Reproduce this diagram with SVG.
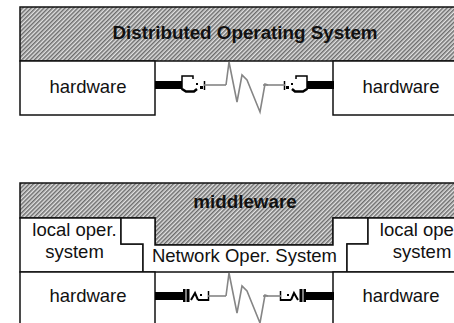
<svg xmlns="http://www.w3.org/2000/svg" width="454" height="323" viewBox="0 0 454 323">
<style>
.box{fill:#fff;stroke:#111;stroke-width:1.5}
.hatch{fill:url(#hatch);stroke:#111;stroke-width:1.5}
.t{font-family:"Liberation Sans",Arial,sans-serif;font-size:18.5px;fill:#111;text-anchor:middle}
.b{font-weight:bold;font-size:18.8px}
.wire{fill:none;stroke:#858585;stroke-width:1.6;stroke-linejoin:miter}
.ink{fill:none;stroke:#000}
</style>
<defs>
<pattern id="hatch" width="3" height="3" patternUnits="userSpaceOnUse" patternTransform="rotate(45)">
<rect width="3" height="3" fill="#e2e2e2"/>
<rect width="1.5" height="3" fill="#6c6c6c"/>
</pattern>
<g id="plugT">
<rect x="155" y="81" width="27" height="8" fill="#000"/>
<path class="ink" stroke-width="1.5" d="M182,90 V76 H193 V79"/>
<path class="ink" stroke-width="2.5" d="M182,89 L186,91.5 H194 L197,89"/>
<rect x="196" y="83" width="2" height="2"/>
<rect x="200" y="86" width="3" height="3"/>
<path class="ink" stroke-width="1.5" d="M204.5,81 V90"/>
<path class="wire" d="M204,85 H226"/>
</g>
<g id="plugB">
<rect x="155" y="292" width="28" height="8" fill="#000"/>
<rect x="183" y="289" width="2.5" height="13" fill="#000"/>
<rect x="186.5" y="289" width="3" height="13" fill="#000"/>
<path class="ink" stroke-width="2" d="M191,300 L195,293 L198,300 M198,300 H208"/>
<rect x="200" y="294" width="2" height="2"/>
<path class="ink" stroke-width="1.5" d="M208.5,291 V301"/>
<path class="wire" d="M208,296 H226"/>
</g>
</defs>

<g id="dos">
<rect class="hatch" x="20" y="7" width="455" height="54"/>
<text class="t b" x="245" y="39">Distributed Operating System</text>
</g>
<g id="hw1">
<rect class="box" x="20" y="61" width="135" height="54"/>
<text class="t" x="88" y="93">hardware</text>
</g>
<g id="hw2">
<rect class="box" x="333" y="61" width="140" height="54"/>
<text class="t" x="401" y="93">hardware</text>
</g>

<g id="middleware">
<path class="hatch" d="M20,183 H475 V218 H333 V245 H155 V218 H20 Z"/>
<text class="t b" x="245" y="208">middleware</text>
</g>
<g id="localos1">
<path class="box" d="M20,218 H121 V244 H143 V272 H20 Z"/>
<text class="t" x="74.5" y="236">local oper.</text>
<text class="t" x="74.5" y="258">system</text>
</g>
<g id="nos">
<path class="box" d="M121,218 H155 V245 H333 V218 H368 V244 H347 V272 H143 V244 H121 Z"/>
<text class="t" x="244.5" y="262">Network Oper. System</text>
</g>
<g id="localos2">
<path class="box" d="M368,218 H475 V272 H347 V244 H368 Z"/>
<text class="t" x="422" y="236">local oper.</text>
<text class="t" x="422" y="258">system</text>
</g>
<g id="hw3">
<rect class="box" x="20" y="272" width="135" height="60"/>
<text class="t" x="88" y="302">hardware</text>
</g>
<g id="hw4">
<rect class="box" x="333" y="272" width="140" height="60"/>
<text class="t" x="401" y="302">hardware</text>
</g>

<g id="connectors">
<g id="link-top">
<use href="#plugT"/>
<use href="#plugT" transform="translate(489,0) scale(-1,1)"/>
<path class="wire" d="M226,85 L229,62 L237,102 L242,75 L247,80 L260,112 L265,84 L268,85"/>
</g>
<g id="link-bottom">
<use href="#plugB"/>
<use href="#plugB" transform="translate(489,0) scale(-1,1)"/>
<path class="wire" d="M226,296 L229,273 L237,313 L242,286 L247,291 L260,323 L265,295 L268,296"/>
</g>
</g>
</svg>
